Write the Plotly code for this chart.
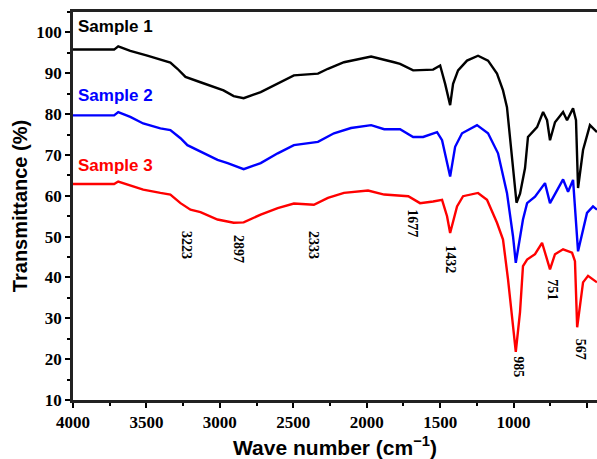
import plotly.graph_objects as go

# Sample 1 (black)
wn1 = [4000, 3720, 3692, 3610, 3494, 3405, 3337, 3289, 3234, 3132, 3016, 2975, 2906, 2838, 2722, 2606,
       2496, 2332, 2264, 2155, 1970, 1813, 1773, 1684, 1548, 1500, 1466, 1432, 1412, 1378, 1317, 1242,
       1174, 1113, 1072, 1045, 1024, 990, 980, 956, 922, 902, 840, 799, 772, 752, 718, 663, 636, 595,
       575, 561, 527, 480, 432]
t1 = [95.8, 95.8, 96.6, 95.5, 94.3, 93.3, 92.6, 91.1, 89.1, 87.8, 86.2, 85.8, 84.4, 83.9, 85.4, 87.4,
      89.5, 89.9, 91.1, 92.7, 94.1, 92.7, 92.3, 90.7, 90.9, 91.9, 87.4, 82.2, 87.4, 90.7, 93.1, 94.3,
      93.1, 89.9, 85.8, 81.7, 73.6, 61.5, 58.3, 60.5, 66.8, 74.4, 76.8, 80.5, 78.5, 73.6, 78.0, 80.5,
      78.5, 81.4, 78.5, 61.9, 71.2, 77.3, 75.6]

# Sample 2 (blue)
wn2 = [4000, 3720, 3692, 3610, 3522, 3405, 3337, 3268, 3221, 3132, 3016, 2947, 2838, 2722, 2606, 2496,
       2332, 2223, 2107, 1970, 1881, 1773, 1684, 1616, 1521, 1487, 1432, 1398, 1351, 1249, 1174, 1106,
       1045, 1004, 985, 936, 908, 854, 786, 752, 704, 663, 629, 595, 561, 500, 459, 432]
t2 = [79.7, 79.7, 80.5, 79.3, 77.7, 76.5, 76.1, 74.1, 72.4, 70.8, 68.8, 68.0, 66.5, 68.0, 70.4, 72.4,
      73.2, 75.3, 76.6, 77.3, 76.3, 76.3, 74.4, 74.4, 75.6, 73.6, 64.7, 72.0, 75.3, 77.3, 75.3, 70.4,
      60.7, 50.1, 43.6, 54.2, 58.2, 59.8, 63.1, 58.2, 61.5, 64.0, 61.0, 63.9, 46.4, 55.8, 57.4, 56.6]

# Sample 3 (red)
wn3 = [4000, 3720, 3692, 3522, 3405, 3337, 3268, 3200, 3132, 3016, 2906, 2838, 2722, 2606, 2496, 2360,
       2264, 2155, 1991, 1881, 1717, 1637, 1548, 1487, 1453, 1432, 1385, 1344, 1242, 1181, 1113, 1072,
       1038, 1004, 985, 956, 936, 908, 854, 806, 752, 718, 663, 602, 582, 567, 527, 493, 432]
t3 = [62.9, 62.9, 63.5, 61.5, 60.7, 60.3, 58.2, 56.6, 56.0, 54.2, 53.4, 53.5, 55.4, 57.0, 58.1, 57.8,
      59.5, 60.7, 61.3, 60.3, 59.9, 58.2, 58.6, 59.0, 55.0, 50.9, 57.4, 59.9, 60.7, 59.0, 53.4, 49.3,
      39.6, 27.4, 21.8, 31.6, 42.8, 44.4, 45.7, 48.5, 42.0, 45.7, 46.9, 46.1, 44.0, 27.8, 38.8, 40.4, 38.8]

series_names = ["Sample 1", "Sample 2", "Sample 3"]
series_colors = ["#000000", "#0000ff", "#ff0000"]
label_pos = [(3980, 101.4), (3980, 84.6), (3980, 67.4)]

peak_labels = ["3223", "2897", "2333", "1677", "1432", "985", "751", "567"]
peak_x = [3222, 2875, 2358, 1690, 1428, 969, 731, 547]
peak_y = [47.9, 46.9, 47.9, 53.2, 44.5, 18.2, 37.1, 22.5]

x_ticks = [4000, 3500, 3000, 2500, 2000, 1500, 1000, 500]
y_ticks = [10, 20, 30, 40, 50, 60, 70, 80, 90, 100]

fig = go.Figure()
for wn, t, name, col in zip([wn1, wn2, wn3], [t1, t2, t3], series_names, series_colors):
    fig.add_trace(go.Scatter(x=wn, y=t, mode="lines", name=name,
                             line=dict(color=col, width=2.4), showlegend=False))

for name, col, (lx, ly) in zip(series_names, series_colors, label_pos):
    fig.add_annotation(x=lx, y=ly, text=name, showarrow=False, xanchor="left", yanchor="middle",
                       font=dict(family="Liberation Sans", size=17, color=col, weight="bold"))

for lab, px, py in zip(peak_labels, peak_x, peak_y):
    fig.add_annotation(x=px, y=py, text=lab, showarrow=False, textangle=90,
                       xanchor="center", yanchor="middle",
                       font=dict(family="Liberation Serif", size=14, color="black", weight="bold"))

fig.update_xaxes(range=[4000, 432], tickvals=x_ticks, ticktext=[str(v) for v in x_ticks],
                 ticks="outside", ticklen=5, tickwidth=2, tickcolor="black",
                 minor=dict(ticks="outside", ticklen=3, tickwidth=2, tickcolor="black", dtick=250, tick0=0),
                 showline=True, linecolor="#222222", linewidth=2.5, mirror=True, showgrid=False, zeroline=False,
                 tickfont=dict(family="Liberation Serif", size=17, color="black", weight="bold"),
                 title=dict(text="Wave number (cm<sup>−1</sup>)", standoff=12,
                            font=dict(family="Liberation Sans", size=21, color="black", weight="bold")))
fig.update_yaxes(range=[10, 105], tickvals=y_ticks, ticktext=[str(v) for v in y_ticks],
                 ticks="outside", ticklen=5, tickwidth=2, tickcolor="black",
                 minor=dict(ticks="outside", ticklen=3, tickwidth=2, tickcolor="black", dtick=5, tick0=0),
                 showline=True, linecolor="#222222", linewidth=2.5, mirror=False, showgrid=False, zeroline=False,
                 tickfont=dict(family="Liberation Serif", size=17, color="black", weight="bold"),
                 title=dict(text="Transmittance (%)", standoff=4,
                            font=dict(family="Liberation Sans", size=20, color="black", weight="bold")))

fig.update_layout(width=597, height=459, margin=dict(l=73, r=0, t=12, b=57),
                  plot_bgcolor="white", paper_bgcolor="white")
fig.write_html("out.html")
